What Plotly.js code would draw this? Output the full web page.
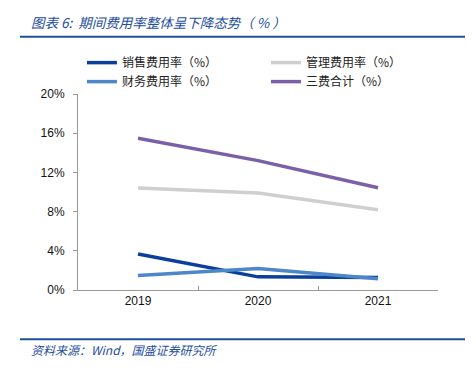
<!DOCTYPE html>
<html>
<head>
<meta charset="utf-8">
<script src="https://cdn.plot.ly/plotly-3.0.1.min.js"></script>
<style>html,body{margin:0;padding:0;background:#fff;}#chart{width:476px;height:370px;}</style>
</head>
<body>
<div id="chart"></div>
<script>
var years = ['2019', '2020', '2021'];
var sellingRate = [3.68, 1.34, 1.27];
var adminRate = [10.4, 9.89, 8.19];
var financeRate = [1.48, 2.19, 1.14];
var totalRate = [15.48, 13.2, 10.43];
var seriesNames = ['销售费用率（%）', '管理费用率（%）', '财务费用率（%）', '三费合计（%）'];
var yTickVals = [0, 4, 8, 12, 16, 20];
var yTickText = ['0%', '4%', '8%', '12%', '16%', '20%'];

var colors = ['#0a3f9c', '#cfcfcf', '#4d87c9', '#7b5fa8'];
var series = [sellingRate, adminRate, financeRate, totalRate];
var traces = series.map(function (s, i) {
  return {
    x: years, y: s, name: seriesNames[i], type: 'scatter', mode: 'lines',
    line: {color: colors[i], width: 3.5}
  };
});

var L = 78, R = 438, T = 94, B = 290.5;
function px(x) { return (x - L) / (R - L); }
function py(y) { return (B - y) / (B - T); }

var blue = '#1f4e9e';
var layout = {
  width: 476, height: 370,
  margin: {l: L, r: 476 - R, t: T, b: 370 - B},
  paper_bgcolor: '#fff', plot_bgcolor: '#fff',
  font: {family: 'Liberation Sans, Arial, sans-serif', size: 12, color: '#222'},
  showlegend: true,
  legend: {
    orientation: 'h', x: -0.0001, xanchor: 'left', y: py(48), yanchor: 'top',
    indentation: 4,
    entrywidth: 135, entrywidthmode: 'pixels', traceorder: 'normal',
    font: {family: 'Noto Sans CJK SC, sans-serif', size: 12, color: '#222'},
    bgcolor: 'rgba(0,0,0,0)', tracegroupgap: 0
  },
  xaxis: {
    type: 'category', range: [-0.5, 2.5], tickson: 'boundaries',
    ticks: 'inside', ticklen: 4, tickcolor: '#999', showline: true,
    linecolor: '#999', linewidth: 1, showgrid: false, zeroline: false,
    tickfont: {size: 12, color: '#111'}, fixedrange: true
  },
  yaxis: {
    range: [0, 20], tickvals: yTickVals, ticktext: yTickText,
    ticks: 'outside', ticklen: 4, tickcolor: '#999', showline: true,
    linecolor: '#999', linewidth: 1, showgrid: false, zeroline: false,
    tickfont: {size: 12, color: '#111'}, ticklabelstandoff: 6, fixedrange: true
  },
  shapes: [
    {type: 'line', xref: 'paper', yref: 'paper', x0: px(20), x1: px(465), y0: py(36.5), y1: py(36.5),
     line: {color: blue, width: 2}},
    {type: 'line', xref: 'paper', yref: 'paper', x0: px(20), x1: px(465), y0: py(340), y1: py(340),
     line: {color: blue, width: 2}}
  ],
  annotations: [
    {text: '<i>图表 6:  期间费用率整体呈下降态势（ % ）</i>', xref: 'paper', yref: 'paper',
     x: px(29), y: py(22), xanchor: 'left', yanchor: 'middle', showarrow: false,
     font: {family: 'Noto Sans CJK SC, sans-serif', size: 13.5, color: blue}},
    {text: '<i>资料来源：Wind，国盛证券研究所</i>', xref: 'paper', yref: 'paper',
     x: px(29), y: py(350), xanchor: 'left', yanchor: 'middle', showarrow: false,
     font: {family: 'Noto Sans CJK SC, sans-serif', size: 12, color: blue}}
  ]
};

Plotly.newPlot('chart', traces, layout, {displayModeBar: false, staticPlot: true});
</script>
</body>
</html>
